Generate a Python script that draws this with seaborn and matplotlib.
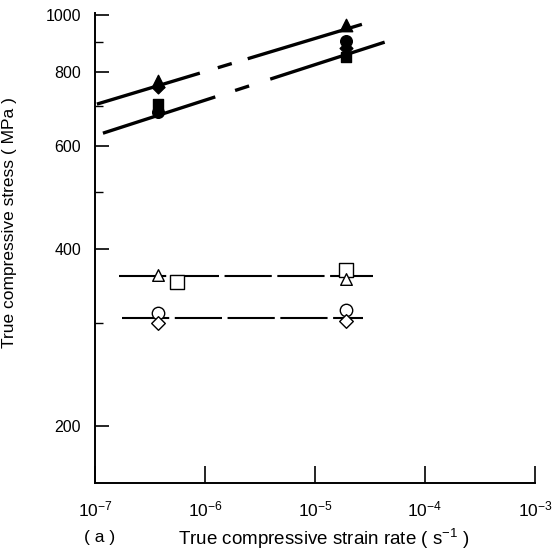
import numpy as np
import pandas as pd
import matplotlib
matplotlib.use("Agg")
import matplotlib.pyplot as plt
from matplotlib.ticker import FixedLocator, NullLocator, FixedFormatter
import seaborn as sns

# ---- data -------------------------------------------------------------
# strain rates (s^-1) at which the tests were run
rate_slow = 3.7e-7
rate_fast = 1.9e-5
rate_open_square_slow = 5.6e-7

# filled symbols (strain-rate sensitive group)
filled_tri_stress = [772, 961]
filled_dia_stress = [754, 879]
filled_sq_stress = [706, 848]
filled_circ_stress = [684, 903]

# open symbols (rate insensitive group)
open_tri_stress = [361, 356]
open_sq_stress = [351, 368]
open_circ_stress = [311, 315]
open_dia_stress = [299, 302]

# fitted lines: end points (rate, stress)
upper_fit_rate = [1.04e-7, 2.67e-5]
upper_fit_stress = [706, 965]
lower_fit_rate = [1.18e-7, 4.3e-5]
lower_fit_stress = [630, 900]
open_upper_rate = [1.65e-7, 3.4e-5]
open_upper_stress = [360, 360]
open_lower_rate = [1.76e-7, 2.73e-5]
open_lower_stress = [306, 306]

x_ticks = [1e-7, 1e-6, 1e-5, 1e-4, 1e-3]
x_tick_labels = [r"$\mathregular{10^{-7}}$", r"$\mathregular{10^{-6}}$",
                 r"$\mathregular{10^{-5}}$", r"$\mathregular{10^{-4}}$",
                 r"$\mathregular{10^{-3}}$"]
y_major = [200, 400, 600, 800, 1000]
y_minor = [300, 500, 700, 900]

# ---- style ------------------------------------------------------------
sns.set_theme(style="ticks")
plt.rcParams["font.family"] = ["Liberation Sans", "DejaVu Sans"]
plt.rcParams["mathtext.fontset"] = "custom"
plt.rcParams["mathtext.rm"] = "Liberation Sans"
plt.rcParams["lines.scale_dashes"] = False

fig = plt.figure(figsize=(5.59, 5.51), dpi=100)
ax = fig.add_axes([0.170, 0.1234, 0.787, 0.8526])
ax.set_xscale("log")
ax.set_yscale("log")

# ---- fitted / guide lines ---------------------------------------------
lines = [
    (upper_fit_rate, upper_fit_stress, 2.4, (0, (77.4, 13.5, 10.5, 12.0, 300, 1))),
    (lower_fit_rate, lower_fit_stress, 2.4, (0, (85.0, 15.0, 10.6, 16.0, 300, 1))),
    (open_upper_rate, open_upper_stress, 1.5, (0, (34, 4.0))),
    (open_lower_rate, open_lower_stress, 1.5, (0, (34, 4.0))),
]
for xr, ys, lw, ls in lines:
    df = pd.DataFrame({"rate": xr, "stress": ys})
    sns.lineplot(data=df, x="rate", y="stress", color="black", linewidth=lw,
                 linestyle=ls, estimator=None, sort=False, ax=ax)

# ---- symbols ----------------------------------------------------------
rates = [rate_slow, rate_fast]
symbols = [
    # stress, marker, size, face, rates
    (open_sq_stress, "s", 90, "white", [rate_open_square_slow, rate_fast]),
    (open_tri_stress, "^", 70, "white", rates),
    (open_circ_stress, "o", 80, "white", rates),
    (open_dia_stress, "D", 48, "white", rates),
    (filled_tri_stress, "^", 80, "black", rates),
    (filled_dia_stress, "D", 42, "black", rates),
    (filled_sq_stress, "s", 60, "black", rates),
    (filled_circ_stress, "o", 70, "black", rates),
]
for ys, mk, s, fc, xr in symbols:
    sns.scatterplot(x=xr, y=ys, marker=mk, s=s, facecolor=fc,
                    edgecolor="black", linewidth=1.0, zorder=3, ax=ax)

# ---- axes -------------------------------------------------------------
ax.set_xlim(1e-7, 1e-3)
ax.set_ylim(160, 1008)
ax.xaxis.set_major_locator(FixedLocator(x_ticks))
ax.xaxis.set_major_formatter(FixedFormatter(x_tick_labels))
ax.xaxis.set_minor_locator(NullLocator())
ax.yaxis.set_major_locator(FixedLocator(y_major))
ax.yaxis.set_major_formatter(FixedFormatter([str(v) for v in y_major]))
ax.yaxis.set_minor_locator(FixedLocator(y_minor))
ax.yaxis.set_minor_formatter(FixedFormatter([""] * len(y_minor)))

ax.tick_params(axis="x", which="major", direction="in", length=12, width=1.2,
               pad=12, labelsize=12.5, color="black", labelcolor="black")
ax.tick_params(axis="y", which="major", direction="in", length=10, width=1.2,
               pad=10, labelsize=11.5, color="black", labelcolor="black")
ax.tick_params(axis="y", which="minor", direction="in", length=6, width=1.0,
               color="black")

sns.despine(ax=ax, top=True, right=True)
for sp in ("left", "bottom"):
    ax.spines[sp].set_linewidth(1.4)
    ax.spines[sp].set_color("black")

ax.set_xlabel(r"True compressive strain rate ( s$\mathregular{^{-1}}$ )",
              fontsize=13.5, color="black")
ax.set_ylabel("True compressive stress ( MPa )", fontsize=12.5, color="black")
ax.xaxis.set_label_coords(0.52, -0.093)
ax.yaxis.set_label_coords(-0.177, 0.555)
ax.text(0.011, -0.115, "( a )", transform=ax.transAxes, ha="center",
        va="center", fontsize=12.5, color="black")

fig.savefig("out.png", dpi=100, facecolor="white")
